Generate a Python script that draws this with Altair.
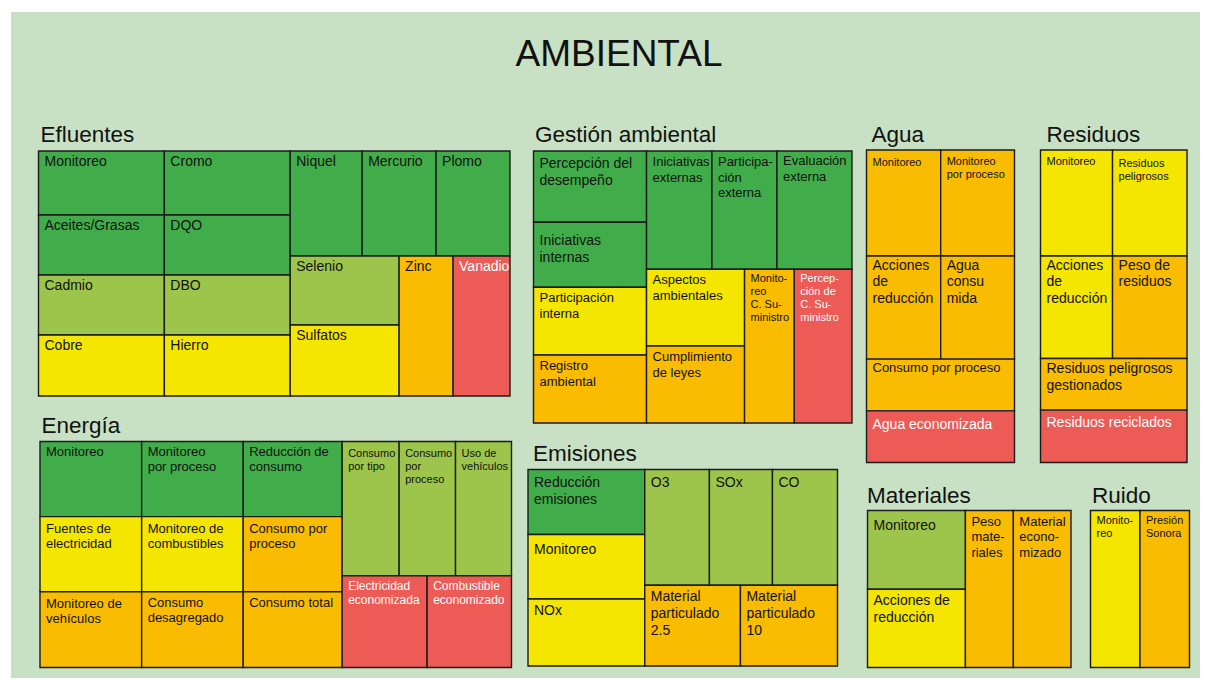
import altair as alt
import pandas as pd

# ---------------- DATA ----------------
TITLE = "AMBIENTAL"

# status: 0 = dark green, 1 = light green, 2 = yellow, 3 = orange, 4 = red
efluentes_labels = ["Monitoreo", "Cromo", "Aceites/Grasas", "DQO", "Cadmio", "DBO", "Cobre", "Hierro",
                    "Niquel", "Mercurio", "Plomo", "Selenio", "Sulfatos", "Zinc", "Vanadio"]
efluentes_status = [0, 0, 0, 0, 1, 1, 2, 2, 0, 0, 0, 1, 2, 3, 4]

gestion_labels = ["Percepción del\ndesempeño", "Iniciativas\ninternas", "Participación\ninterna",
                  "Registro\nambiental", "Iniciativas\nexternas", "Participa-\nción\nexterna",
                  "Evaluación\nexterna", "Aspectos\nambientales", "Cumplimiento\nde leyes",
                  "Monito-\nreo\nC. Su-\nministro", "Percep-\nción de\nC. Su-\nministro"]
gestion_status = [0, 0, 2, 3, 0, 0, 0, 2, 3, 3, 4]

agua_labels = ["Monitoreo", "Monitoreo\npor proceso", "Acciones\nde\nreducción", "Agua\nconsu\nmida",
               "Consumo por proceso", "Agua economizada"]
agua_status = [3, 3, 3, 3, 3, 4]

residuos_labels = ["Monitoreo", "Residuos\npeligrosos", "Acciones\nde\nreducción", "Peso de\nresiduos",
                   "Residuos peligrosos\ngestionados", "Residuos reciclados"]
residuos_status = [2, 2, 2, 3, 3, 4]

energia_labels = ["Monitoreo", "Monitoreo\npor proceso", "Reducción de\nconsumo", "Fuentes de\nelectricidad",
                  "Monitoreo de\ncombustibles", "Consumo por\nproceso", "Monitoreo de\nvehículos",
                  "Consumo\ndesagregado", "Consumo total", "Consumo\npor tipo", "Consumo\npor\nproceso",
                  "Uso de\nvehículos", "Electricidad\neconomizada", "Combustible\neconomizado"]
energia_status = [0, 0, 0, 2, 2, 3, 3, 3, 3, 1, 1, 1, 4, 4]

emisiones_labels = ["Reducción\nemisiones", "Monitoreo", "NOx", "O3", "SOx", "CO",
                    "Material\nparticulado\n2.5", "Material\nparticulado\n10"]
emisiones_status = [0, 2, 2, 1, 1, 1, 3, 3]

materiales_labels = ["Monitoreo", "Acciones de\nreducción", "Peso\nmate-\nriales", "Material\necono-\nmizado"]
materiales_status = [1, 2, 3, 3]

ruido_labels = ["Monito-\nreo", "Presión\nSonora"]
ruido_status = [2, 3]

# relative cell sizes (treemap weights)
efluentes_sizes = ("h", [(252, ("v", [(64, ("h", [(126, 0), (126, 1)])),
                                      (60, ("h", [(126, 2), (126, 3)])),
                                      (60, ("h", [(126, 4), (126, 5)])),
                                      (61, ("h", [(126, 6), (126, 7)]))])),
                         (220, ("v", [(105, ("h", [(72, 8), (74, 9), (74, 10)])),
                                      (140, ("h", [(109, ("v", [(69, 11), (71, 12)])), (54, 13), (57, 14)]))]))])
gestion_sizes = ("h", [(113, ("v", [(71.3, 0), (65, 1), (67.7, 2), (68, 3)])),
                       (205.4, ("v", [(118.3, ("h", [(65.4, 4), (65, 5), (75, 6)])),
                                      (153.7, ("h", [(98, ("v", [(76.7, 7), (77, 8)])), (49.7, 9), (57.7, 10)]))]))])
agua_sizes = ("v", [(106, ("h", [(74, 0), (73.6, 1)])), (103, ("h", [(74, 2), (73.6, 3)])), (51.7, 4), (51.6, 5)])
residuos_sizes = ("v", [(106, ("h", [(72, 0), (74.4, 1)])), (102.3, ("h", [(72, 2), (74.4, 3)])), (51.7, 4), (52.3, 5)])
energia_sizes = ("h", [(302.3, ("v", [(75, ("h", [(101.7, 0), (101.6, 1), (99, 2)])),
                                      (75, ("h", [(101.7, 3), (101.6, 4), (99, 5)])),
                                      (75.6, ("h", [(101.7, 6), (101.6, 7), (99, 8)]))])),
                       (169.4, ("v", [(134, ("h", [(57, 9), (56.4, 10), (56, 11)])),
                                      (91.6, ("h", [(85, 12), (84.4, 13)]))]))])
emisiones_sizes = ("h", [(116.7, ("v", [(65, 0), (64.4, 1), (67, 2)])),
                         (192.6, ("v", [(115.7, ("h", [(64.6, 3), (63, 4), (65, 5)])),
                                        (80.7, ("h", [(95.6, 6), (97, 7)]))]))])
materiales_sizes = ("h", [(98, ("v", [(78.7, 0), (78.3, 1)])), (48, 2), (57.7, 3)])
ruido_sizes = ("h", [(49.3, 0), (49.3, 1)])

# ---------------- LAYOUT / STYLE ----------------
GROUPS = [
    # name, labels, status, sizes, box (x0, y0, x1, y1), font sizes
    ("Efluentes", efluentes_labels, efluentes_status, efluentes_sizes, (38.5, 151, 510, 396), [14] * 15),
    ("Gestión ambiental", gestion_labels, gestion_status, gestion_sizes, (533.5, 151, 852, 423),
     [14, 14, 13, 13, 13, 13, 13, 13, 13, 11, 11]),
    ("Agua", agua_labels, agua_status, agua_sizes, (866.5, 150, 1014.5, 462.5), [11, 11, 14, 14, 13, 14]),
    ("Residuos", residuos_labels, residuos_status, residuos_sizes, (1040.5, 150, 1187, 462.5),
     [11, 11, 14, 14, 14, 14]),
    ("Energía", energia_labels, energia_status, energia_sizes, (40, 441.5, 511.5, 667.5),
     [13] * 9 + [11, 11, 11, 12, 12]),
    ("Emisiones", emisiones_labels, emisiones_status, emisiones_sizes, (528, 469.5, 837.5, 666), [14] * 8),
    ("Materiales", materiales_labels, materiales_status, materiales_sizes, (867.5, 510.5, 1071, 667.5),
     [14, 14, 13, 13]),
    ("Ruido", ruido_labels, ruido_status, ruido_sizes, (1090.5, 510.5, 1189.5, 667.5), [11, 11]),
]
TITLE_POS = {"Efluentes": (40.5, 142), "Gestión ambiental": (535, 142), "Agua": (871.5, 142),
             "Residuos": (1046.5, 142), "Energía": (41.5, 433), "Emisiones": (533, 461),
             "Materiales": (867, 503), "Ruido": (1092, 503)}
NUDGE = {("Efluentes", None): -1, ("Gestión ambiental", 0): 1, ("Gestión ambiental", 1): 6.5,
         ("Gestión ambiental", 6): -1, ("Gestión ambiental", 9): -0.5, ("Gestión ambiental", 10): -0.5,
         ("Agua", 0): 3, ("Agua", 1): 2, ("Agua", 2): -2.5, ("Agua", 3): -2.5, ("Agua", 4): -2.3,
         ("Agua", 5): 2.5, ("Residuos", 0): 2, ("Residuos", 1): 3.5, ("Residuos", 2): -2.5,
         ("Residuos", 3): -2.5, ("Residuos", 4): -1, ("Residuos", 5): 0.7, ("Energía", 0): -0.7,
         ("Energía", 1): -0.7, ("Energía", 2): -0.7, ("Energía", 3): 1, ("Energía", 4): 1,
         ("Energía", 5): 1, ("Energía", 6): 1, ("Energía", 9): 2, ("Energía", 10): 2, ("Energía", 11): 2,
         ("Emisiones", 0): 1.4, ("Emisiones", 1): 3.5, ("Emisiones", 3): 1.4, ("Emisiones", 4): 1.4,
         ("Emisiones", 5): 1.4, ("Materiales", 0): 3, ("Ruido", 0): 0.7, ("Ruido", 1): 0.7}

COLORS = ["#41ad4a", "#9dc54b", "#f4e600", "#f9bc00", "#ec5b55"]
BG = "#c8e1c4"
FONT = "Liberation Sans"


def layout(node, x0, y0, x1, y1, out):
    if isinstance(node, int):
        out.append((node, x0, y0, x1, y1))
        return
    d, parts = node
    total = sum(w for w, _ in parts)
    pos = x0 if d == "h" else y0
    span = (x1 - x0) if d == "h" else (y1 - y0)
    for w, child in parts:
        a, b = pos, pos + span * w / total
        if d == "h":
            layout(child, a, y0, b, y1, out)
        else:
            layout(child, x0, a, x1, b, out)
        pos = b


cells, labels, titles = [], [], []
for name, labs, stat, sizes, box, fsizes in GROUPS:
    out = []
    layout(sizes, *box, out)
    for idx, x0, y0, x1, y1 in out:
        cells.append({"group": name, "label": labs[idx], "status": stat[idx],
                      "x0": x0, "x1": x1, "y0": y0, "y1": y1})
        fs = fsizes[idx]
        nudge = NUDGE.get((name, idx), NUDGE.get((name, None), 0))
        labels.append({"text": labs[idx], "size": fs, "x": x0 + 6, "y": y0 + fs + 2 + nudge,
                       "tcolor": "white" if stat[idx] == 4 else "#111111"})
    tx, ty = TITLE_POS[name]
    titles.append({"text": name, "x": tx, "y": ty})

cells_df = pd.DataFrame(cells)
labels_df = pd.DataFrame(labels)
titles_df = pd.DataFrame(titles)

W, H = 1192, 670
xs = alt.Scale(domain=[8, 8 + W], nice=False, zero=False)
ys = alt.Scale(domain=[8, 8 + H], reverse=True, nice=False, zero=False)

bg = alt.Chart(pd.DataFrame([{"x0": 11, "x1": 8 + W, "y0": 12, "y1": 8 + H}])).mark_rect(
    color=BG).encode(
    x=alt.X("x0:Q", scale=xs, axis=None), x2="x1:Q",
    y=alt.Y("y0:Q", scale=ys, axis=None), y2="y1:Q")

rects = alt.Chart(cells_df).mark_rect(stroke="#1c1c1c", strokeWidth=1.4).encode(
    x=alt.X("x0:Q", scale=xs, axis=None), x2="x1:Q",
    y=alt.Y("y0:Q", scale=ys, axis=None), y2="y1:Q",
    fill=alt.Fill("status:O", scale=alt.Scale(domain=[0, 1, 2, 3, 4], range=COLORS), legend=None),
    tooltip=["group:N", "label:N"])

text_layers = []
for fs in sorted(labels_df["size"].unique()):
    sub = labels_df[labels_df["size"] == fs]
    text_layers.append(
        alt.Chart(sub).mark_text(align="left", baseline="alphabetic", font=FONT, fontSize=int(fs),
                                 lineBreak="\n", lineHeight=round(fs * 1.2, 1)).encode(
            x=alt.X("x:Q", scale=xs, axis=None), y=alt.Y("y:Q", scale=ys, axis=None),
            text="text:N", color=alt.Color("tcolor:N", scale=None)))

group_titles = alt.Chart(titles_df).mark_text(
    align="left", baseline="alphabetic", font=FONT, fontSize=22.5, color="#111111").encode(
    x=alt.X("x:Q", scale=xs, axis=None), y=alt.Y("y:Q", scale=ys, axis=None), text="text:N")

main_title = alt.Chart(pd.DataFrame([{"text": TITLE, "x": 619, "y": 66}])).mark_text(
    align="center", baseline="alphabetic", font=FONT, fontSize=37, color="#111111").encode(
    x=alt.X("x:Q", scale=xs, axis=None), y=alt.Y("y:Q", scale=ys, axis=None), text="text:N")

chart = alt.layer(bg, rects, *text_layers, group_titles, main_title).properties(
    width=W, height=H, padding=0, autosize="none", background="white"
).configure_view(stroke=None)

chart.save("out.html", embed_options={"renderer": "svg", "actions": False})
